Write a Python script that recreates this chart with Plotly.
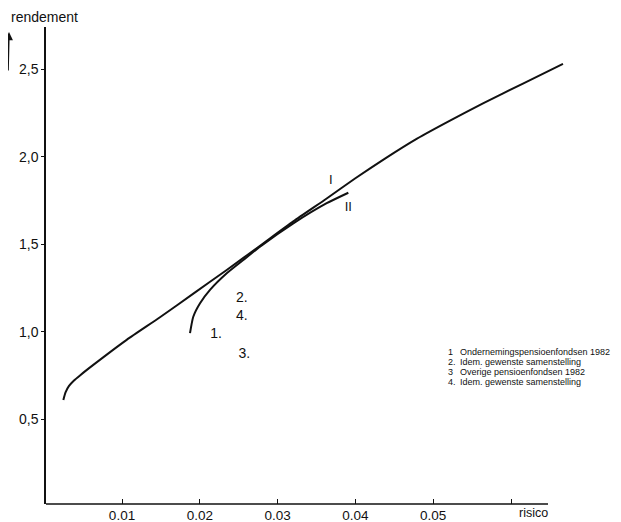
import plotly.graph_objects as go

# ---- data ----
curve_I_x = [0.00246, 0.00274, 0.00319, 0.00383, 0.00460, 0.00631, 0.01060, 0.01488,
             0.01917, 0.02346, 0.02774, 0.03202, 0.03631, 0.03995, 0.04380, 0.04792,
             0.05216, 0.05640, 0.06154, 0.06668]
curve_I_y = [0.612, 0.655, 0.692, 0.723, 0.752, 0.812, 0.955, 1.084,
             1.219, 1.354, 1.492, 1.631, 1.762, 1.876, 1.990, 2.104,
             2.207, 2.305, 2.418, 2.530]

curve_II_x = [0.01874, 0.01916, 0.02003, 0.02131, 0.02346, 0.02559, 0.02774,
              0.03202, 0.03631, 0.03909]
curve_II_y = [0.993, 1.087, 1.164, 1.240, 1.335, 1.411, 1.487,
              1.620, 1.735, 1.795]

point_labels = ["1.", "2.", "3.", "4."]
point_x = [0.02208, 0.02539, 0.02572, 0.02539]
point_y = [0.988, 1.192, 0.869, 1.087]

curve_names = ["I", "II"]
curve_label_x = [0.03683, 0.03909]
curve_label_y = [1.864, 1.712]

legend_nums = ["1", "2.", "3", "4."]
legend_texts = ["Ondernemingspensioenfondsen 1982",
                "Idem. gewenste samenstelling",
                "Overige pensioenfondsen 1982",
                "Idem. gewenste samenstelling"]
legend_y = [0.886, 0.829, 0.772, 0.714]

x_tickvals = [0.01, 0.02, 0.03, 0.04, 0.05, 0.06]
x_ticktext = ["0.01", "0.02", "0.03", "0.04", "0.05", ""]
y_tickvals = [0.5, 1.0, 1.5, 2.0, 2.5]
y_ticktext = ["0,5", "1,0", "1,5", "2,0", "2,5"]

FONT = "Liberation Sans, Arial, sans-serif"
INK = "#111111"

fig = go.Figure()
fig.add_trace(go.Scatter(x=curve_I_x, y=curve_I_y, mode="lines",
                         line=dict(color=INK, width=2, shape="spline", smoothing=0.6),
                         hoverinfo="skip", showlegend=False))
fig.add_trace(go.Scatter(x=curve_II_x, y=curve_II_y, mode="lines",
                         line=dict(color=INK, width=2, shape="spline", smoothing=0.6),
                         hoverinfo="skip", showlegend=False))
fig.add_trace(go.Scatter(x=point_x, y=point_y, mode="text", text=point_labels,
                         textfont=dict(family=FONT, size=14, color=INK),
                         hoverinfo="skip", showlegend=False, cliponaxis=False))
fig.add_trace(go.Scatter(x=curve_label_x, y=curve_label_y, mode="text", text=curve_names,
                         textfont=dict(family=FONT, size=13, color=INK),
                         hoverinfo="skip", showlegend=False, cliponaxis=False))

annotations = []
for n, t, yy in zip(legend_nums, legend_texts, legend_y):
    annotations.append(dict(x=0.05165, y=yy, xref="x", yref="y", text=n, showarrow=False,
                            xanchor="left", yanchor="middle",
                            font=dict(family=FONT, size=9, color=INK)))
    annotations.append(dict(x=0.05319, y=yy, xref="x", yref="y", text=t, showarrow=False,
                            xanchor="left", yanchor="middle",
                            font=dict(family=FONT, size=9, color=INK)))

# axis titles
annotations.append(dict(x=-0.0703, y=1.021, xref="paper", yref="paper", text="rendement",
                        showarrow=False, xanchor="left", yanchor="middle",
                        font=dict(family=FONT, size=14, color=INK)))
annotations.append(dict(x=0.06283, y=-0.019, xref="x", yref="paper", text="risico",
                        showarrow=False, xanchor="center", yanchor="middle",
                        font=dict(family=FONT, size=12.5, color=INK)))
# upward arrow next to 'rendement'
annotations.append(dict(x=-0.0722, y=0.9895, xref="paper", yref="paper", text="",
                        showarrow=True, ax=0, ay=40, arrowhead=2, arrowsize=1.1,
                        arrowwidth=1.5, arrowcolor=INK))

# the page body has an 8px margin, so the figure is drawn 8px in from the corner
fig.update_layout(
    width=613, height=514,
    margin=dict(l=38, r=49, t=19, b=18),
    paper_bgcolor="white", plot_bgcolor="white",
    annotations=annotations,
    shapes=[dict(type="line", xref="paper", yref="paper", x0=0, x1=0.9544, y0=0, y1=0,
                 line=dict(color=INK, width=1.5))],
    font=dict(family=FONT, color=INK),
)
fig.update_xaxes(range=[0.00023, 0.06784], showgrid=False, zeroline=False, showline=False,
                 tickvals=x_tickvals, ticktext=x_ticktext, ticks="inside", ticklen=5,
                 tickwidth=1, tickcolor=INK, tickfont=dict(family=FONT, size=13.5, color=INK),
                 ticklabelstandoff=1, automargin=False)
fig.update_yaxes(range=[0.018, 2.741], showgrid=False, zeroline=False, showline=True,
                 linecolor=INK, linewidth=1.5, tickvals=y_tickvals, ticktext=y_ticktext,
                 ticks="outside", ticklen=3, tickwidth=1, tickcolor=INK,
                 tickfont=dict(family=FONT, size=14, color=INK), automargin=False)

fig.write_html("out.html")
